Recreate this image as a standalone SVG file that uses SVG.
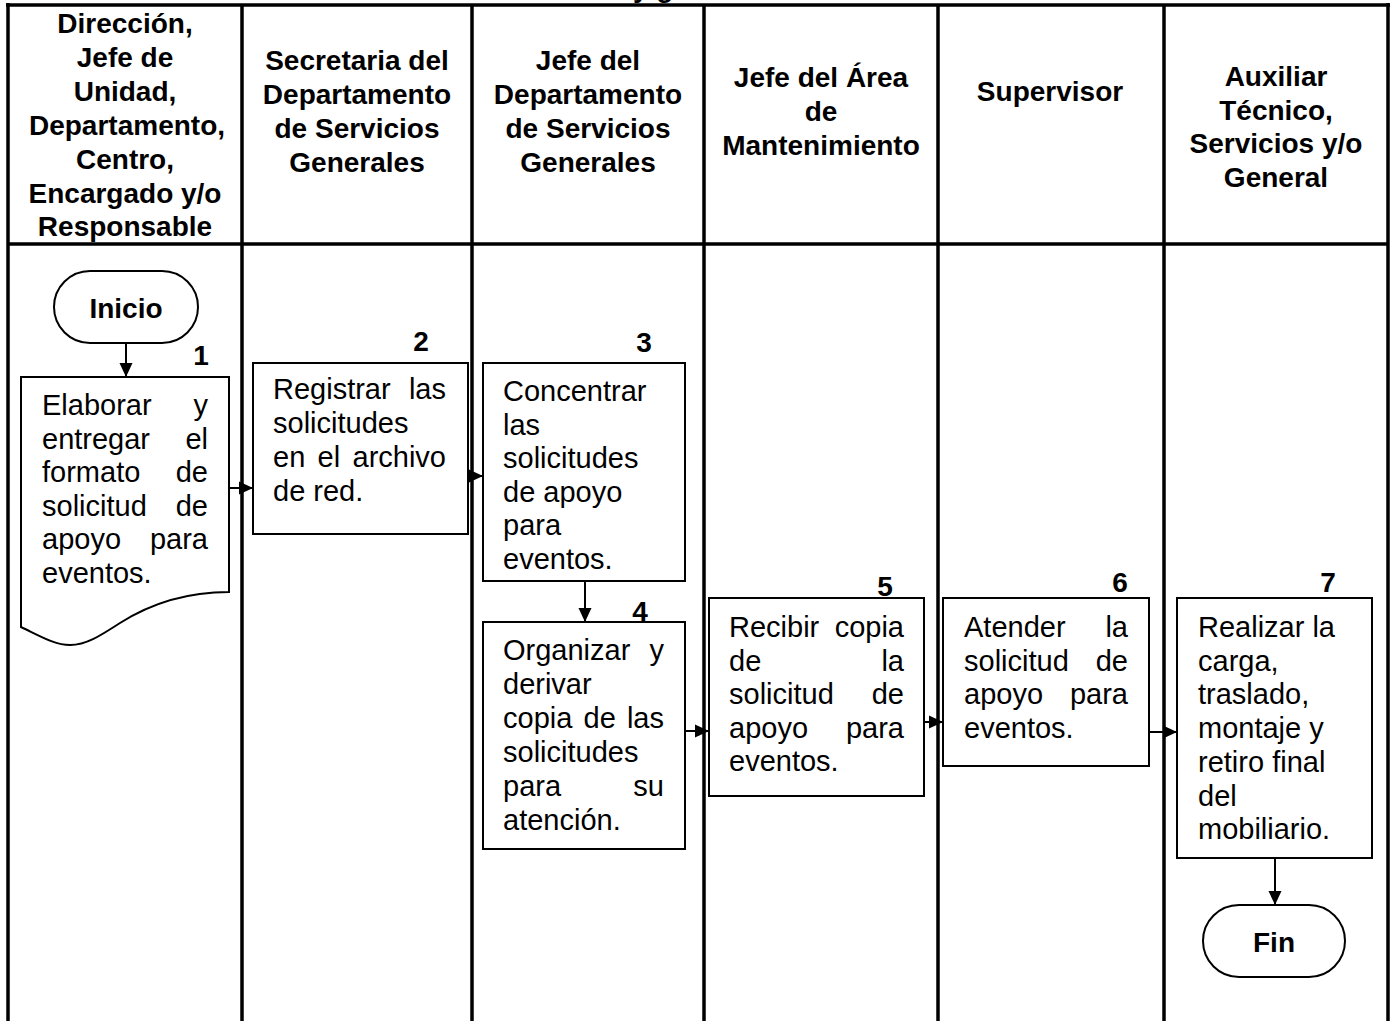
<svg xmlns="http://www.w3.org/2000/svg" width="1390" height="1021" viewBox="0 0 1390 1021">
<style>
.lane{stroke:#000;stroke-width:3.5;fill:none}
.box{fill:#fff;stroke:#000;stroke-width:2}
.hd{font-family:"Liberation Sans",Arial,sans-serif;font-weight:bold;font-size:28px;text-anchor:middle;fill:#000}
.tx{font-family:"Liberation Sans",Arial,sans-serif;font-size:29px;fill:#000}
.e{text-anchor:end}
.num{font-family:"Liberation Sans",Arial,sans-serif;font-weight:bold;font-size:28px;text-anchor:middle;fill:#000}
.term{font-family:"Liberation Sans",Arial,sans-serif;font-weight:bold;font-size:28px;text-anchor:middle;fill:#000}
.conn{stroke:#000;stroke-width:2;fill:none;marker-end:url(#ah)}
</style>
<defs>
<marker id="ah" markerUnits="userSpaceOnUse" markerWidth="14" markerHeight="14" refX="14" refY="7" orient="auto">
<path d="M0,0.5 L14,7 L0,13.5 Z" fill="#000"/>
</marker>
</defs>
<rect width="1390" height="1021" fill="#fff"/>
<text x="633" y="-3" class="hd" style="text-anchor:start">y g</text>
<g id="grid">
<line class="lane" x1="6" y1="5" x2="1390" y2="5"/>
<line class="lane" x1="8" y1="244" x2="1388" y2="244"/>
<line class="lane" x1="8" y1="3" x2="8" y2="1021"/>
<line class="lane" x1="242" y1="5" x2="242" y2="1021"/>
<line class="lane" x1="472" y1="5" x2="472" y2="1021"/>
<line class="lane" x1="704" y1="5" x2="704" y2="1021"/>
<line class="lane" x1="938" y1="5" x2="938" y2="1021"/>
<line class="lane" x1="1164" y1="5" x2="1164" y2="1021"/>
<line class="lane" x1="1388" y1="3" x2="1388" y2="1021"/>
</g>
<g id="headers">
<text class="hd" x="125" y="33">Dirección,</text>
<text class="hd" x="125" y="67">Jefe de</text>
<text class="hd" x="125" y="101">Unidad,</text>
<text class="hd" x="127" y="135">Departamento,</text>
<text class="hd" x="125" y="169">Centro,</text>
<text class="hd" x="125" y="203">Encargado y/o</text>
<text class="hd" x="125" y="236">Responsable</text>
<text class="hd" x="357" y="70">Secretaria del</text>
<text class="hd" x="357" y="104">Departamento</text>
<text class="hd" x="357" y="138">de Servicios</text>
<text class="hd" x="357" y="172">Generales</text>
<text class="hd" x="588" y="70">Jefe del</text>
<text class="hd" x="588" y="104">Departamento</text>
<text class="hd" x="588" y="138">de Servicios</text>
<text class="hd" x="588" y="172">Generales</text>
<text class="hd" x="821" y="87">Jefe del Área</text>
<text class="hd" x="821" y="121">de</text>
<text class="hd" x="821" y="155">Mantenimiento</text>
<text class="hd" x="1050" y="101">Supervisor</text>
<text class="hd" x="1276" y="86">Auxiliar</text>
<text class="hd" x="1276" y="120">Técnico,</text>
<text class="hd" x="1276" y="153">Servicios y/o</text>
<text class="hd" x="1276" y="187">General</text>
</g>
<g id="connectors">
<path class="conn" d="M126,343 V377"/>
<path class="conn" d="M227,488 H253"/>
<path class="conn" d="M466,476 H483"/>
<path class="conn" d="M585,581 V622"/>
<path class="conn" d="M685,731 H709"/>
<path class="conn" d="M924,722 H943"/>
<path class="conn" d="M1149,732 H1177"/>
<path class="conn" d="M1275,859 V905"/>
</g>
<g id="inicio">
<rect class="box" x="54" y="271" width="144" height="72" rx="36" ry="36"/>
<text class="term" x="126" y="318">Inicio</text>
</g>
<g id="step1">
<path class="box" d="M21,377 H229 V592 C185,592 150,604 120,623 C100,636 86,645 70,645 C55,645 40,636 21,627 Z"/>
<text class="num" x="201" y="365">1</text>
<text class="tx" x="42" y="415">Elaborar</text><text class="tx e" x="208" y="415">y</text>
<text class="tx" x="42" y="448.5">entregar</text><text class="tx e" x="208" y="448.5">el</text>
<text class="tx" x="42" y="482">formato</text><text class="tx e" x="208" y="482">de</text>
<text class="tx" x="42" y="515.5">solicitud</text><text class="tx e" x="208" y="515.5">de</text>
<text class="tx" x="42" y="549">apoyo</text><text class="tx e" x="208" y="549">para</text>
<text class="tx" x="42" y="582.5">eventos.</text>
</g>
<g id="step2">
<rect class="box" x="253" y="363" width="215" height="171"/>
<text class="num" x="421" y="351">2</text>
<text class="tx" x="273" y="399">Registrar</text><text class="tx e" x="446" y="399">las</text>
<text class="tx" x="273" y="433">solicitudes</text>
<text class="tx" x="273" y="467">en</text><text class="tx" x="317.5" y="467">el</text><text class="tx e" x="446" y="467">archivo</text>
<text class="tx" x="273" y="501">de red.</text>
</g>
<g id="step3">
<rect class="box" x="483" y="363" width="202" height="218"/>
<text class="num" x="644" y="352">3</text>
<text class="tx" x="503" y="401">Concentrar</text>
<text class="tx" x="503" y="434.5">las</text>
<text class="tx" x="503" y="468">solicitudes</text>
<text class="tx" x="503" y="501.5">de apoyo</text>
<text class="tx" x="503" y="535">para</text>
<text class="tx" x="503" y="568.5">eventos.</text>
</g>
<g id="step4">
<rect class="box" x="483" y="622" width="202" height="227"/>
<text class="num" x="640" y="621">4</text>
<text class="tx" x="503" y="660">Organizar</text><text class="tx e" x="664" y="660">y</text>
<text class="tx" x="503" y="694">derivar</text>
<text class="tx" x="503" y="728">copia</text><text class="tx" x="583.5" y="728">de</text><text class="tx e" x="664" y="728">las</text>
<text class="tx" x="503" y="762">solicitudes</text>
<text class="tx" x="503" y="796">para</text><text class="tx e" x="664" y="796">su</text>
<text class="tx" x="503" y="830">atención.</text>
</g>
<g id="step5">
<rect class="box" x="709" y="598" width="215" height="198"/>
<text class="num" x="885" y="596">5</text>
<text class="tx" x="729" y="637">Recibir</text><text class="tx e" x="904" y="637">copia</text>
<text class="tx" x="729" y="670.5">de</text><text class="tx e" x="904" y="670.5">la</text>
<text class="tx" x="729" y="704">solicitud</text><text class="tx e" x="904" y="704">de</text>
<text class="tx" x="729" y="737.5">apoyo</text><text class="tx e" x="904" y="737.5">para</text>
<text class="tx" x="729" y="771">eventos.</text>
</g>
<g id="step6">
<rect class="box" x="943" y="598" width="206" height="168"/>
<text class="num" x="1120" y="592">6</text>
<text class="tx" x="964" y="637">Atender</text><text class="tx e" x="1128" y="637">la</text>
<text class="tx" x="964" y="670.5">solicitud</text><text class="tx e" x="1128" y="670.5">de</text>
<text class="tx" x="964" y="704">apoyo</text><text class="tx e" x="1128" y="704">para</text>
<text class="tx" x="964" y="737.5">eventos.</text>
</g>
<g id="step7">
<rect class="box" x="1177" y="598" width="195" height="260"/>
<text class="num" x="1328" y="592">7</text>
<text class="tx" x="1198" y="637">Realizar la</text>
<text class="tx" x="1198" y="670.7">carga,</text>
<text class="tx" x="1198" y="704.4">traslado,</text>
<text class="tx" x="1198" y="738.1">montaje y</text>
<text class="tx" x="1198" y="771.8">retiro final</text>
<text class="tx" x="1198" y="805.5">del</text>
<text class="tx" x="1198" y="839.2">mobiliario.</text>
</g>
<g id="fin">
<rect class="box" x="1203" y="905" width="142" height="72" rx="36" ry="36"/>
<text class="term" x="1274" y="952">Fin</text>
</g>
</svg>
